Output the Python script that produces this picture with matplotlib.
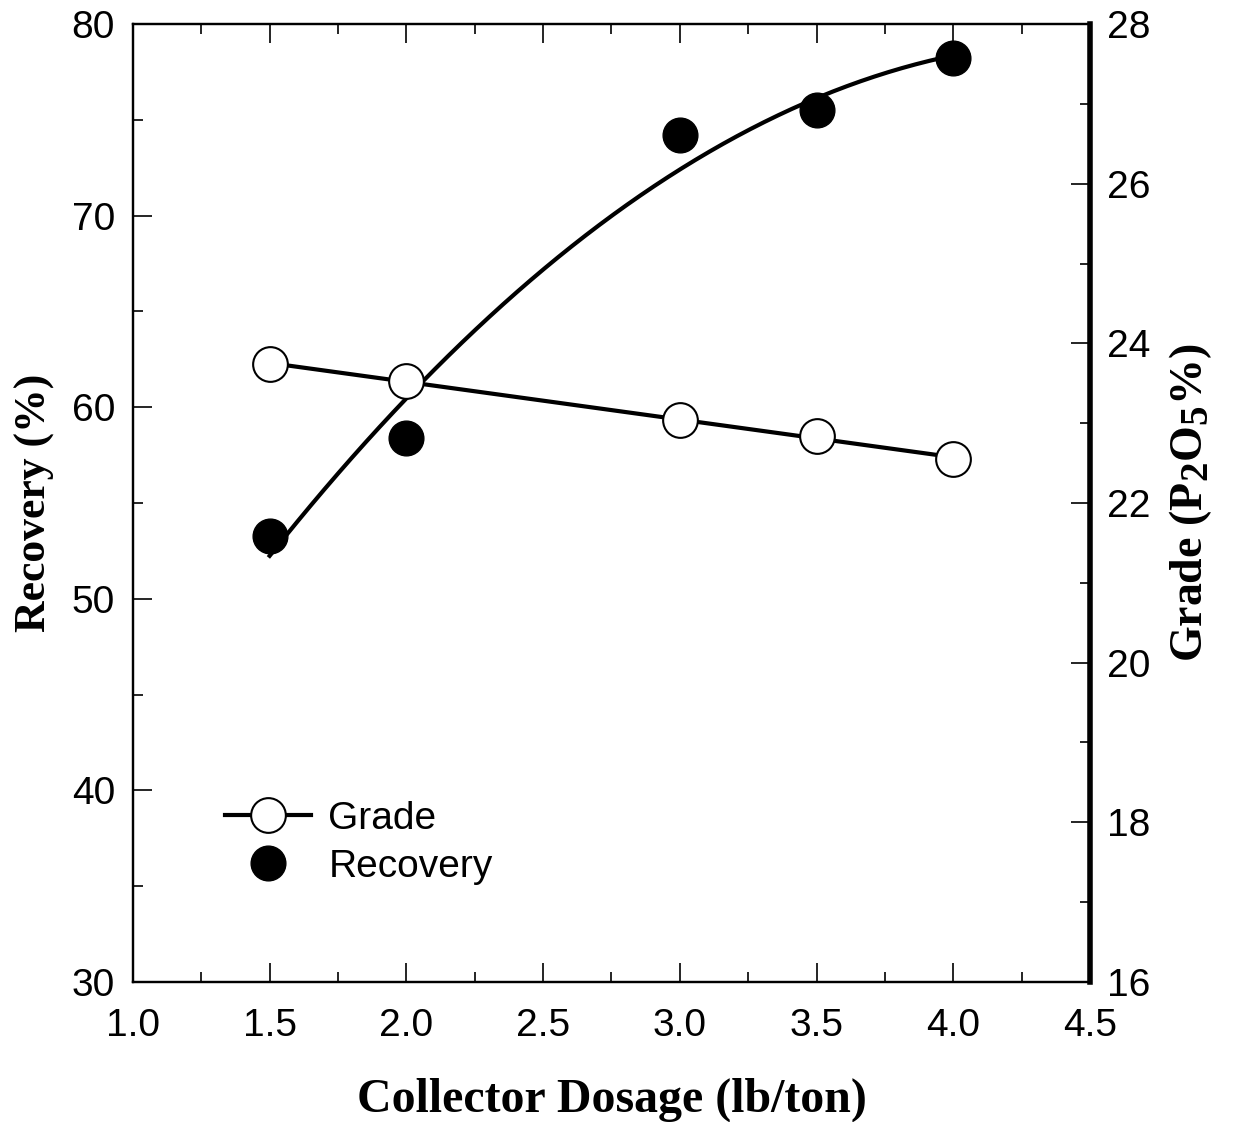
import numpy as np
import matplotlib
matplotlib.use("Agg")
import matplotlib.pyplot as plt
from matplotlib.ticker import MultipleLocator

try:
    # bigger subscripts, like the original P2O5 label
    import matplotlib._mathtext as _mt
    _mt.SHRINK_FACTOR = 0.85
except Exception:
    pass

# data
dosage = [1.5, 2.0, 3.0, 3.5, 4.0]
recovery = [53.3, 58.4, 74.2, 75.5, 78.2]
grade = [23.74, 23.53, 23.04, 22.84, 22.55]

plt.rcParams['font.family'] = ['Liberation Sans', 'DejaVu Sans']
plt.rcParams['mathtext.fontset'] = 'custom'
plt.rcParams['mathtext.rm'] = 'Liberation Serif:bold'
plt.rcParams['mathtext.it'] = 'Liberation Serif:bold'
plt.rcParams['mathtext.bf'] = 'Liberation Serif:bold'

fig = plt.figure(figsize=(12.46, 11.22), dpi=100)
ax = fig.add_axes([0.1067, 0.1248, 0.7681, 0.8538])
ax2 = ax.twinx()

# regression lines
xs = np.linspace(1.5, 4.0, 200)
rec_fit = np.polyval(np.polyfit(dosage, recovery, 2), xs)
gr_fit = np.polyval(np.polyfit(dosage, grade, 1), xs)

ax.plot(xs, rec_fit, color='k', lw=3, zorder=2)
ax.plot(dosage, recovery, 'o', color='k', ms=25, zorder=3)

ax2.plot(xs, gr_fit, color='k', lw=3, zorder=2)
ax2.plot(dosage, grade, 'o', mfc='white', mec='k', mew=1.5, ms=25, zorder=3)

ax.set_xlim(1.0, 4.5)
ax.set_ylim(30, 80)
ax2.set_ylim(16, 28)

ax.xaxis.set_major_locator(MultipleLocator(0.5))
ax.xaxis.set_minor_locator(MultipleLocator(0.25))
ax.yaxis.set_major_locator(MultipleLocator(10))
ax.yaxis.set_minor_locator(MultipleLocator(5))
ax2.yaxis.set_major_locator(MultipleLocator(2))
ax2.yaxis.set_minor_locator(MultipleLocator(1))
ax.xaxis.set_major_formatter(plt.FormatStrFormatter('%.1f'))

ax.tick_params(axis='x', which='both', direction='in', top=True, labelsize=28, pad=19)
ax.tick_params(axis='y', which='both', direction='in', right=False, labelsize=28, pad=13)
ax.tick_params(which='major', length=14, width=1.2)
ax.tick_params(which='minor', length=7, width=1.2)
ax2.tick_params(axis='y', which='both', direction='in', labelsize=28, pad=12)
ax2.tick_params(which='major', length=14, width=1.2)
ax2.tick_params(which='minor', length=7, width=1.2)

for s in ax.spines.values():
    s.set_linewidth(1.6)
for s in ax2.spines.values():
    s.set_linewidth(1.6)
ax2.spines['right'].set_linewidth(4)

ax.set_xlabel('Collector Dosage (lb/ton)', fontsize=34.5, fontweight='bold',
              family='Liberation Serif', labelpad=24)
ax.set_ylabel('Recovery (%)', fontsize=31.5, fontweight='bold',
              family='Liberation Serif', labelpad=12)
ax2.set_ylabel(r'Grade (P$_2$O$_5$%)', fontsize=33, fontweight='bold',
               family='Liberation Serif', rotation=90, labelpad=12)

# legend
h1, = ax.plot([], [], '-o', color='k', mfc='white', mec='k', mew=1.5, ms=25, lw=3)
h2, = ax.plot([], [], 'o', color='k', ms=25)
ax.legend([h1, h2], ['Grade', 'Recovery'], loc='lower left',
          bbox_to_anchor=(0.06, 0.065), frameon=False, fontsize=28,
          handlelength=2.2, handletextpad=0.45, labelspacing=0.3)

fig.savefig('out.png', dpi=100)
